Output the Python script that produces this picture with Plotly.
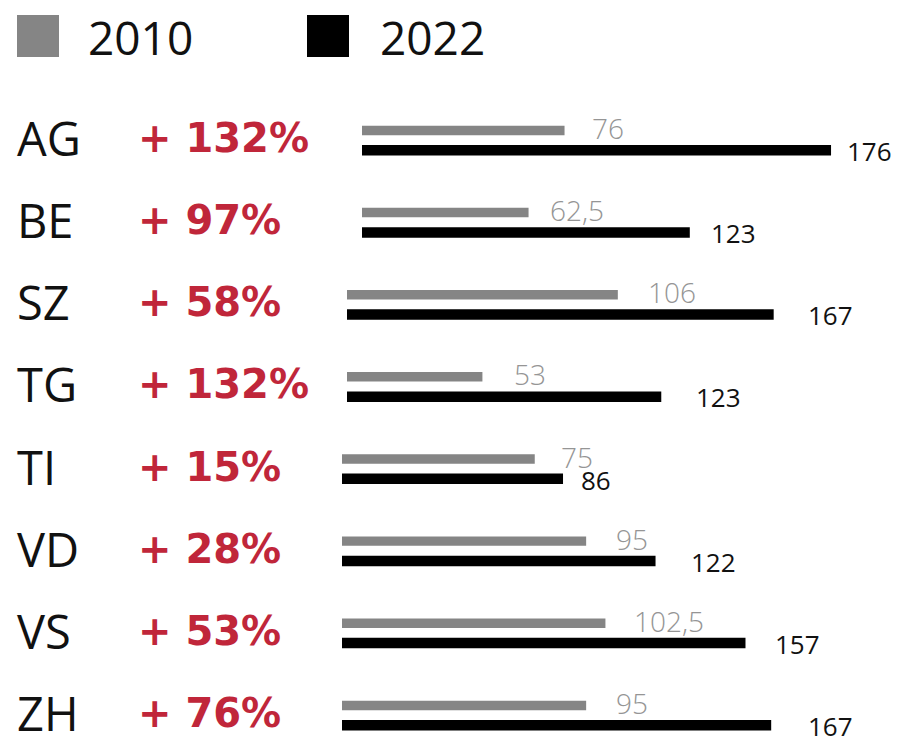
import plotly.graph_objects as go

# ---- data ----
regions = ["AG", "BE", "SZ", "TG", "TI", "VD", "VS", "ZH"]
values_2010 = [76, 62.5, 106, 53, 75, 95, 102.5, 95]
values_2022 = [176, 123, 167, 123, 86, 122, 157, 167]
labels_2010 = ["76", "62,5", "106", "53", "75", "95", "102,5", "95"]
labels_2022 = ["176", "123", "167", "123", "86", "122", "157", "167"]
changes = ["+ 132%", "+ 97%", "+ 58%", "+ 132%", "+ 15%", "+ 28%", "+ 53%", "+ 76%"]
series_names = ["2010", "2022"]

# ---- style / layout ----
OFF = 8                      # browser default body margin
W, H = 899 - OFF, 736 - OFF
TOP = 99 - OFF
FONT = "Open Sans"
GRAY = "#858585"
BLACK = "#000000"
RED = "#c0263a"
LABEL_GRAY = "#959595"

# the bars of the three row groups start at slightly different places
axis_of_row = ["x", "x", "x2", "x2", "x3", "x3", "x3", "x3"]
axis_domains = {"x": (362, 895), "x2": (347, 858), "x3": (342, 856)}
XMAX = 200
# pixel gap between bar end and its value label (hand-placed in the original)
gap_2010 = [25, 19, 28, 30, 24, 28, 27, 28]
gap_2022 = [14, 19, 32, 33, 16, 33, 28, 35]


def px_x(p):
    return (p - OFF) / W


def px_y(p):
    return (H - (p - OFF)) / (H - TOP)


fig = go.Figure()

for ax in ["x", "x2", "x3"]:
    idx = [i for i, a in enumerate(axis_of_row) if a == ax]
    fig.add_trace(go.Bar(
        orientation="h",
        x=[values_2010[i] for i in idx],
        y=[regions[i] for i in idx],
        xaxis=ax, yaxis="y",
        offset=-0.175, width=0.115,
        marker=dict(color=GRAY, line=dict(width=0)),
        showlegend=False, hoverinfo="skip",
    ))
    fig.add_trace(go.Bar(
        orientation="h",
        x=[values_2022[i] for i in idx],
        y=[regions[i] for i in idx],
        xaxis=ax, yaxis="y",
        offset=0.06, width=0.128,
        marker=dict(color=BLACK, line=dict(width=0)),
        showlegend=False, hoverinfo="skip",
    ))

annotations = []
for i, r in enumerate(regions):
    ax = axis_of_row[i]
    annotations.append(dict(
        x=px_x(15), xref="paper", y=i, yref="y", text=r,
        xanchor="left", yanchor="middle", showarrow=False, yshift=2,
        font=dict(family=FONT, size=47, color="#111111")))
    annotations.append(dict(
        x=px_x(136), xref="paper", y=i, yref="y", text="<b>" + changes[i] + "</b>",
        xanchor="left", yanchor="middle", showarrow=False, yshift=2,
        font=dict(family="DejaVu Sans", size=40, color=RED)))
    annotations.append(dict(
        x=values_2010[i], xref=ax, y=i, yref="y", text=labels_2010[i],
        xanchor="left", yanchor="middle", showarrow=False,
        xshift=gap_2010[i], yshift=12,
        font=dict(family=FONT, size=28, weight=300, color=LABEL_GRAY)))
    annotations.append(dict(
        x=values_2022[i], xref=ax, y=i, yref="y", text=labels_2022[i],
        xanchor="left", yanchor="middle", showarrow=False,
        xshift=gap_2022[i], yshift=-11,
        font=dict(family=FONT, size=26, color="#111111")))

# legend drawn as shapes + text
legend_items = [(17, GRAY, 86), (307, BLACK, 378)]
shapes = []
for (sx, col, tx), name in zip(legend_items, series_names):
    shapes.append(dict(type="rect", xref="paper", yref="paper",
                       x0=px_x(sx), x1=px_x(sx + 42), y0=px_y(57), y1=px_y(15),
                       fillcolor=col, line=dict(width=0)))
    annotations.append(dict(
        x=px_x(tx), xref="paper", y=px_y(37), yref="paper", text=name,
        xanchor="left", yanchor="middle", showarrow=False,
        font=dict(family=FONT, size=46, color="#111111")))

layout_axes = {}
for ax, (a, b) in axis_domains.items():
    key = "xaxis" if ax == "x" else "xaxis" + ax[1:]
    layout_axes[key] = dict(domain=[px_x(a), px_x(b)], range=[0, XMAX],
                            visible=False, anchor="y", fixedrange=True)

fig.update_layout(
    width=W, height=H,
    margin=dict(l=0, r=0, t=TOP, b=0),
    paper_bgcolor="white", plot_bgcolor="rgba(0,0,0,0)",
    barmode="overlay",
    showlegend=False,
    yaxis=dict(type="category", categoryarray=regions, categoryorder="array",
               range=[7.255, -0.5], autorange=False, visible=False,
               anchor="x", fixedrange=True),
    annotations=annotations,
    shapes=shapes,
    **layout_axes,
)

fig.write_html("out.html")
